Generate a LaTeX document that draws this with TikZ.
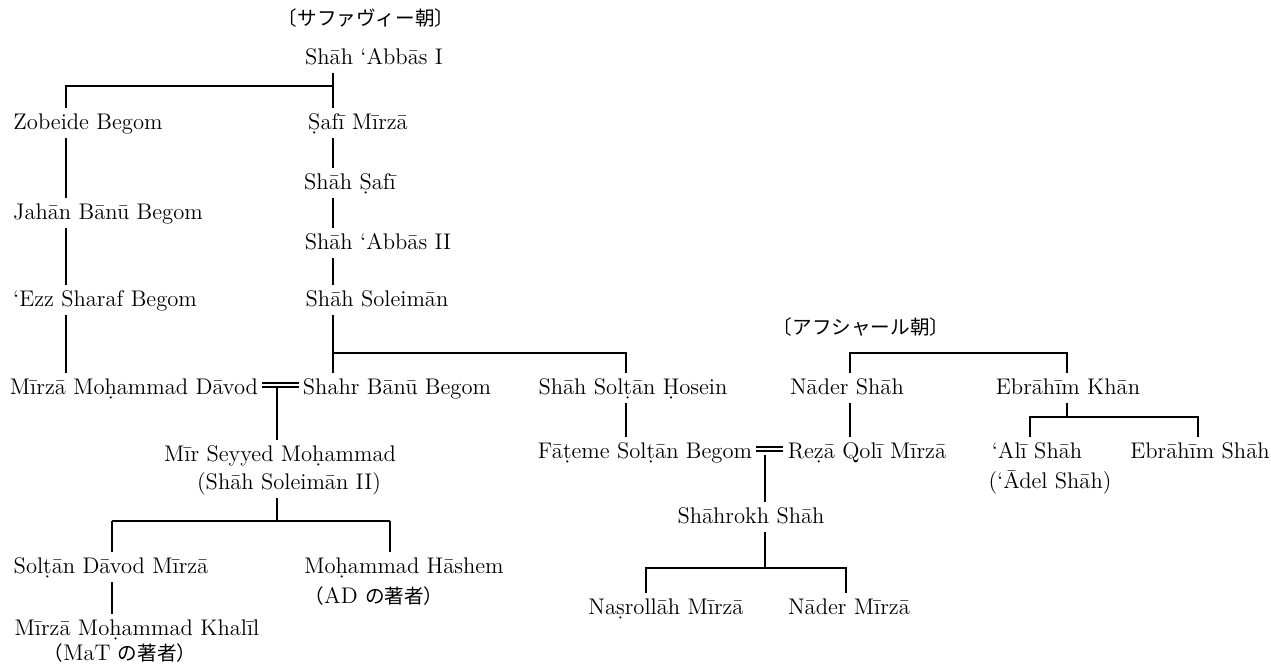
\documentclass[tikz,border=0pt]{standalone}
\usepackage{fontspec}
\newfontfamily\cjk{Noto Sans CJK JP}
\newcommand\psize{\fontsize{11.3}{13}\selectfont\addfontfeatures{FakeBold=0.3}}
\newcommand\jsize{\fontsize{9.8}{12}\selectfont}
\tikzset{
  person/.style={inner sep=2pt, text height=8.5pt, text depth=2.5pt, font=\psize},
  dynasty/.style={inner sep=1pt, font=\cjk\jsize},
  kin/.style={line width=0.7pt, line cap=butt}
}
\begin{document}
\begin{tikzpicture}[x=0.5pt,y=-0.5pt]
\useasboundingbox (0,0) rectangle (1271,665);
% ---- Safavid
\node[dynasty] (saf) at (366,18) {〔サファヴィー朝〕};
\node[person] (abbas1) at (374,58) {Shāh ‘Abbās I};
\node[person] (zob) at (88,123) {Zobeide Begom};
\node[person] (safi) at (358,123) {Ṣafī Mīrzā};
\node[person] (jahan) at (108,213) {Jahān Bānū Begom};
\node[person] (shsafi) at (350,183) {Shāh Ṣafī};
\node[person] (abbas2) at (378,243) {Shāh ‘Abbās II};
\node[person] (ezz) at (105,300) {‘Ezz Sharaf Begom};
\node[person] (soleiman) at (377,300) {Shāh Soleimān};
\node[person] (davod) at (134,388) {Mīrzā Moḥammad Dāvod};
\node[person] (shahr) at (397,388) {Shahr Bānū Begom};
\node[person] (hosein) at (633,388) {Shāh Solṭān Ḥosein};
\node[person] (mir) at (280,455) {Mīr Seyyed Moḥammad};
\node[person] (mir2) at (289,483) {(Shāh Soleimān II)};
\node[person] (soltan) at (111,567) {Solṭān Dāvod Mīrzā};
\node[person] (hashem) at (404,567) {Moḥammad Hāshem};
\node[person] (ad) at (374,597) {{\cjk\jsize （}AD {\cjk\jsize の著者）}};
\node[person] (khalil) at (137,629) {Mīrzā Moḥammad Khalīl};
\node[person] (mat) at (120,654) {{\cjk\jsize （}MaT {\cjk\jsize の著者）}};
% ---- Afsharid
\node[dynasty] (afs) at (861,327) {〔アフシャール朝〕};
\node[person] (nader) at (847,388) {Nāder Shāh};
\node[person] (ebkhan) at (1068,388) {Ebrāhīm Khān};
\node[person] (fateme) at (645,452) {Fāṭeme Solṭān Begom};
\node[person] (reza) at (867,452) {Reẓā Qolī Mīrzā};
\node[person] (ali) at (1037,452) {‘Alī Shāh};
\node[person] (adel) at (1050,482) {(‘Ādel Shāh)};
\node[person] (ebshah) at (1200,452) {Ebrāhīm Shāh};
\node[person] (shahrokh) at (751,517) {Shāhrokh Shāh};
\node[person] (nasr) at (666,608) {Naṣrollāh Mīrzā};
\node[person] (nadm) at (849,608) {Nāder Mīrzā};
% ---- junction coordinates
\coordinate (c1) at (333,86);
\coordinate (c1l) at (66,86);
\coordinate (c2) at (333,353);
\coordinate (c2r) at (626,353);
\coordinate (m1) at (277,387);
\coordinate (m2) at (277,521);
\coordinate (m2l) at (112,521);
\coordinate (m2r) at (390,521);
\coordinate (a1) at (850,353);
\coordinate (a1r) at (1067,353);
\coordinate (e1) at (1067,417);
\coordinate (e1l) at (1030,417);
\coordinate (e1r) at (1198,417);
\coordinate (f1) at (765,455);
\coordinate (f2) at (765,568);
\coordinate (f2l) at (646,568);
\coordinate (f2r) at (846,568);
% ---- connectors
\draw[kin] (abbas1.south -| c1) -- (safi.north -| c1);
\draw[kin] (c1) -- (c1l) -- (zob.north -| c1l);
\draw[kin] (zob.south -| c1l) -- (jahan.north -| c1l);
\draw[kin] (jahan.south -| c1l) -- (ezz.north -| c1l);
\draw[kin] (ezz.south -| c1l) -- (davod.north -| c1l);
\draw[kin] (safi.south -| c1) -- (shsafi.north -| c1);
\draw[kin] (shsafi.south -| c1) -- (abbas2.north -| c1);
\draw[kin] (abbas2.south -| c1) -- (soleiman.north -| c1);
\draw[kin] (soleiman.south -| c1) -- (shahr.north -| c1);
\draw[kin] (c2) -- (c2r) -- (hosein.north -| c2r);
\draw[kin] (hosein.south -| c2r) -- (fateme.north -| c2r);
\draw[kin] ([yshift=2.6pt]davod.east) -- ([yshift=2.6pt]shahr.west);
\draw[kin] ([yshift=0.6pt]davod.east) -- ([yshift=0.6pt]shahr.west);
\draw[kin] (m1) -- (mir.north -| m1);
\draw[kin] (mir2.south -| m2) -- (m2);
\draw[kin] (m2l) -- (m2r);
\draw[kin] (m2l) -- (soltan.north -| m2l);
\draw[kin] (m2r) -- (hashem.north -| m2r);
\draw[kin] (soltan.south -| m2l) -- (khalil.north -| m2l);
\draw[kin] (nader.north -| a1) -- (a1) -- (a1r) -- (ebkhan.north -| a1r);
\draw[kin] (nader.south -| a1) -- (reza.north -| a1);
\draw[kin] (ebkhan.south -| e1) -- (e1);
\draw[kin] (ali.north -| e1l) -- (e1l) -- (e1r) -- (ebshah.north -| e1r);
\draw[kin] ([yshift=2.6pt]fateme.east) -- ([yshift=2.6pt]reza.west);
\draw[kin] ([yshift=0.6pt]fateme.east) -- ([yshift=0.6pt]reza.west);
\draw[kin] (f1) -- (shahrokh.north -| f1);
\draw[kin] (shahrokh.south -| f2) -- (f2);
\draw[kin] (nasr.north -| f2l) -- (f2l) -- (f2r) -- (nadm.north -| f2r);
\end{tikzpicture}
\end{document}
